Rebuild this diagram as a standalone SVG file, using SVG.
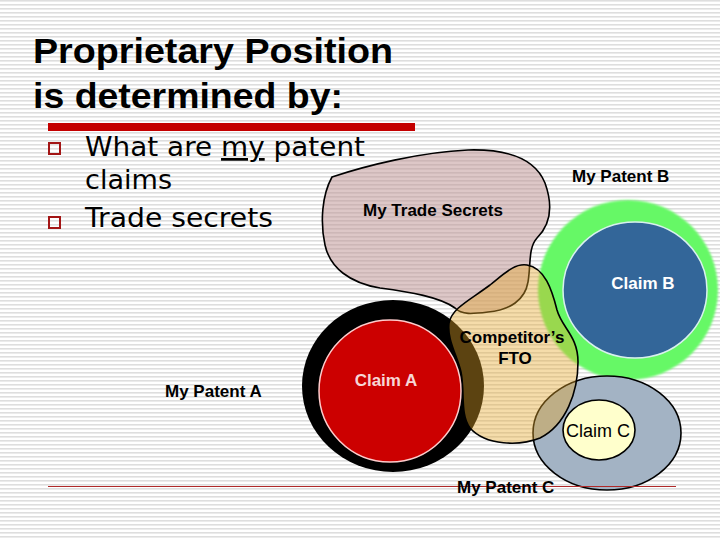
<svg xmlns="http://www.w3.org/2000/svg" width="720" height="540" viewBox="0 0 720 540">
<defs>
<pattern id="stripes" x="0" y="0" width="8" height="4" patternUnits="userSpaceOnUse">
<rect x="0" y="0" width="8" height="1.6" fill="#dedede"/>
</pattern>
<filter id="soft" x="-10%" y="-10%" width="120%" height="120%">
<feGaussianBlur stdDeviation="1.2"/>
</filter>
<style>
.title{font-family:"Liberation Sans",Arial,sans-serif;font-weight:bold;font-size:35px;fill:#000}
.body{font-family:"DejaVu Sans",Verdana,sans-serif;font-size:27px;fill:#000}
.lbl{font-family:"Liberation Sans",Arial,sans-serif;font-weight:bold;font-size:17px;fill:#000}
.bullet{fill:none;stroke:#a31515;stroke-width:2}
.outline{stroke:#000;stroke-width:1.6}
</style>
</defs>
<rect x="0" y="0" width="720" height="540" fill="#ffffff"/>
<rect x="0" y="0" width="720" height="540" fill="url(#stripes)"/>

<g id="title">
<text class="title" x="33" y="63" textLength="360" lengthAdjust="spacingAndGlyphs">Proprietary Position</text>
<text class="title" x="33" y="108" textLength="310" lengthAdjust="spacingAndGlyphs">is determined by:</text>
<rect x="48" y="123" width="367" height="8" fill="#c40000"/>
</g>

<g id="bullets">
<rect class="bullet" x="49" y="143" width="11" height="11"/>
<rect class="bullet" x="49" y="217" width="11" height="11"/>
<text class="body" x="85" y="156" textLength="280" lengthAdjust="spacingAndGlyphs">What are <tspan text-decoration="underline">my</tspan> patent</text>
<text class="body" x="85" y="189" textLength="87" lengthAdjust="spacingAndGlyphs">claims</text>
<text class="body" x="85" y="227" textLength="188" lengthAdjust="spacingAndGlyphs">Trade secrets</text>
</g>

<g id="trade-secrets">
<path class="outline" fill="#bc8f8f" fill-opacity="0.5" d="M 332,177 C 365,166 420,152 468,150 C 505,149 535,158 545,183 C 554,208 549,226 537,238 C 528,248 531,265 528,282 C 525,300 510,310 488,312 C 472,314 462,315 455,308 C 440,297 410,292 380,288 C 350,283 330,268 325,245 C 320,222 322,195 332,177 Z"/>
<text class="lbl" x="363" y="216">My Trade Secrets</text>
</g>

<g id="patent-b">
<circle cx="628" cy="290" r="90" fill="#66f866" filter="url(#soft)"/>
<ellipse cx="635" cy="290" rx="72" ry="68" fill="#336699" stroke="#d8f0ee" stroke-width="1.5"/>
<text class="lbl" x="572" y="182">My Patent B</text>
<text class="lbl" x="643" y="289" text-anchor="middle" style="fill:#ffffff">Claim B</text>
</g>

<g id="patent-c">
<ellipse class="outline" cx="607" cy="433" rx="74" ry="57" fill="#a3b3c4"/>
<ellipse class="outline" cx="599" cy="430" rx="36" ry="30" fill="#ffffcc"/>
<text x="598" y="437" text-anchor="middle" font-family="Liberation Sans, Arial, sans-serif" font-size="18" fill="#000">Claim C</text>
</g>

<g id="patent-a">
<ellipse cx="393" cy="386" rx="91" ry="86" fill="#000000"/>
</g>

<g id="competitor-fto">
<path class="outline" fill="#e6a72a" fill-opacity="0.4" d="M 527,265 C 545,268 552,290 557,310 C 562,328 578,336 578,362 C 578,392 566,425 540,438 C 520,446 486,446 470,428 C 460,415 465,392 461,372 C 457,355 447,340 449,323 C 452,308 470,300 490,285 C 505,273 515,263 527,265 Z"/>
<text class="lbl" x="512" y="343" text-anchor="middle">Competitor’s</text>
<text class="lbl" x="515" y="364" text-anchor="middle">FTO</text>
</g>

<g id="claim-a">
<circle cx="390" cy="391" r="71" fill="#cc0000" stroke="#ffcccc" stroke-width="1.5"/>
<text class="lbl" x="386" y="386" text-anchor="middle" style="fill:#f6d6d6">Claim A</text>
</g>

<g id="labels">
<text class="lbl" x="165" y="397">My Patent A</text>
<line x1="48" y1="486.5" x2="676" y2="486.5" stroke="#b02a2a" stroke-width="1.2"/>
<text class="lbl" x="457" y="493">My Patent C</text>
</g>

<g id="connectors"></g>
</svg>
